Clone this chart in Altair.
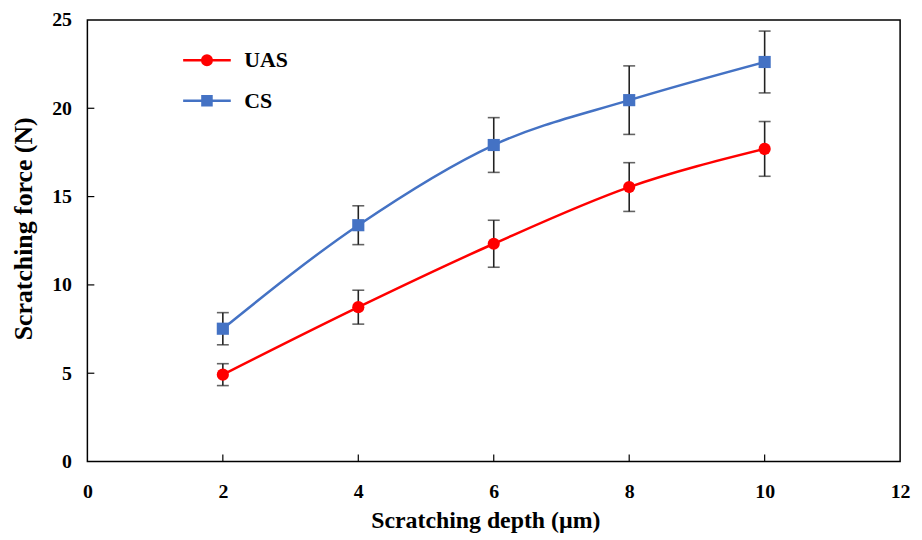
import altair as alt
import pandas as pd

depth = [2, 4, 6, 8, 10]
uas_force = [4.92, 8.74, 12.33, 15.54, 17.70]
uas_err = [0.62, 0.96, 1.33, 1.38, 1.55]
cs_force = [7.52, 13.38, 17.92, 20.46, 22.62]
cs_err = [0.91, 1.10, 1.55, 1.94, 1.75]
series_names = ["UAS", "CS"]
series_colors = ["#FF0000", "#4472C4"]
x_tick_values = [0, 2, 4, 6, 8, 10, 12]
y_tick_values = [0, 5, 10, 15, 20, 25]
x_inner_ticks = [2, 4, 6, 8, 10]
y_inner_ticks = [5, 10, 15, 20]

rows = []
for name, f, e in [("UAS", uas_force, uas_err), ("CS", cs_force, cs_err)]:
    for d, v, er in zip(depth, f, e):
        rows.append({"series": name, "depth": d, "force": v, "lo": v - er, "hi": v + er})
df = pd.DataFrame(rows)

FONT = "Liberation Serif"
H = 445

xs = alt.Scale(domain=[0, 12], nice=False)
ys = alt.Scale(domain=[0, 25], nice=False)
cscale = alt.Scale(domain=series_names, range=series_colors)

x_enc = alt.X("depth:Q", scale=xs,
              axis=alt.Axis(values=x_tick_values, title="Scratching depth (µm)", grid=False, format="d",
                            domain=False, ticks=False, labelPadding=20, titlePadding=7,
                            labelFlush=False, titleFontSize=24, titleX=401))
y_enc = alt.Y("force:Q", scale=ys,
              axis=alt.Axis(values=y_tick_values, title="Scratching force (N)", grid=False, format="d",
                            domain=False, ticks=False, labelPadding=16, titlePadding=15,
                            labelFlush=False, titleFontSize=26, titleY=210))

leg = alt.Legend(title=None, orient="none", legendX=95, legendY=15,
                 symbolSize=2304, symbolStrokeWidth=2.5,
                 labelFont=FONT, labelFontSize=22, labelFontWeight="bold",
                 labelColor="black", rowPadding=4, labelOffset=12)

circ_path = "M-1,0H1M-0.2,0A0.2,0.2,0,1,1,0.2,0A0.2,0.2,0,1,1,-0.2,0Z"
sq_path = "M-1,0H1M-0.19,-0.19H0.19V0.19H-0.19Z"

base = alt.Chart(df)

lines = base.mark_line(interpolate="monotone", strokeWidth=2.5).encode(
    x=x_enc, y=y_enc,
    stroke=alt.Stroke("series:N", scale=cscale, legend=leg),
    detail="series:N",
)

err_rule = base.mark_rule(color="#222222", strokeWidth=1.6).encode(
    x="depth:Q", y="lo:Q", y2="hi:Q")
err_lo = base.mark_tick(color="#222222", orient="horizontal", size=12, thickness=1.6).encode(
    x="depth:Q", y="lo:Q")
err_hi = base.mark_tick(color="#222222", orient="horizontal", size=12, thickness=1.6).encode(
    x="depth:Q", y="hi:Q")

uas_pts = base.transform_filter("datum.series == 'UAS'").mark_circle(
    size=150, opacity=1, color=series_colors[0]).encode(x="depth:Q", y="force:Q")
cs_pts = base.transform_filter("datum.series == 'CS'").mark_square(
    size=150, opacity=1, color=series_colors[1]).encode(x="depth:Q", y="force:Q")

legend_layer = base.transform_filter("false").mark_point(filled=False, opacity=1, strokeWidth=2.5).encode(
    x="depth:Q", y="force:Q",
    stroke=alt.Stroke("series:N", scale=cscale, legend=leg),
    fill=alt.Fill("series:N", scale=cscale, legend=leg),
    shape=alt.Shape("series:N", scale=alt.Scale(domain=series_names, range=[circ_path, sq_path]),
                    legend=leg),
)

xt = pd.DataFrame({"v": x_inner_ticks})
yt = pd.DataFrame({"v": y_inner_ticks})
xticks = alt.Chart(xt).mark_rule(color="black", strokeWidth=1.2).encode(
    x=alt.X("v:Q", scale=xs), y=alt.value(H), y2=alt.value(H - 7))
yticks = alt.Chart(yt).mark_rule(color="black", strokeWidth=1.2).encode(
    y=alt.Y("v:Q", scale=ys), x=alt.value(0), x2=alt.value(7))

chart = alt.layer(lines, err_rule, err_lo, err_hi, uas_pts, cs_pts, legend_layer, xticks, yticks).properties(
    width=819, height=H,
    background="white",
    autosize=alt.AutoSizeParams(type="none"),
    padding={"left": 80, "top": 10, "right": 14, "bottom": 75},
).configure_view(
    stroke="black", strokeWidth=1.5
).configure_axis(
    labelFont=FONT, labelFontSize=20, labelFontWeight="bold", labelColor="black",
    titleFont=FONT, titleFontWeight="bold", titleColor="black",
)

chart.save("out.html", embed_options={"renderer": "svg", "actions": False})
